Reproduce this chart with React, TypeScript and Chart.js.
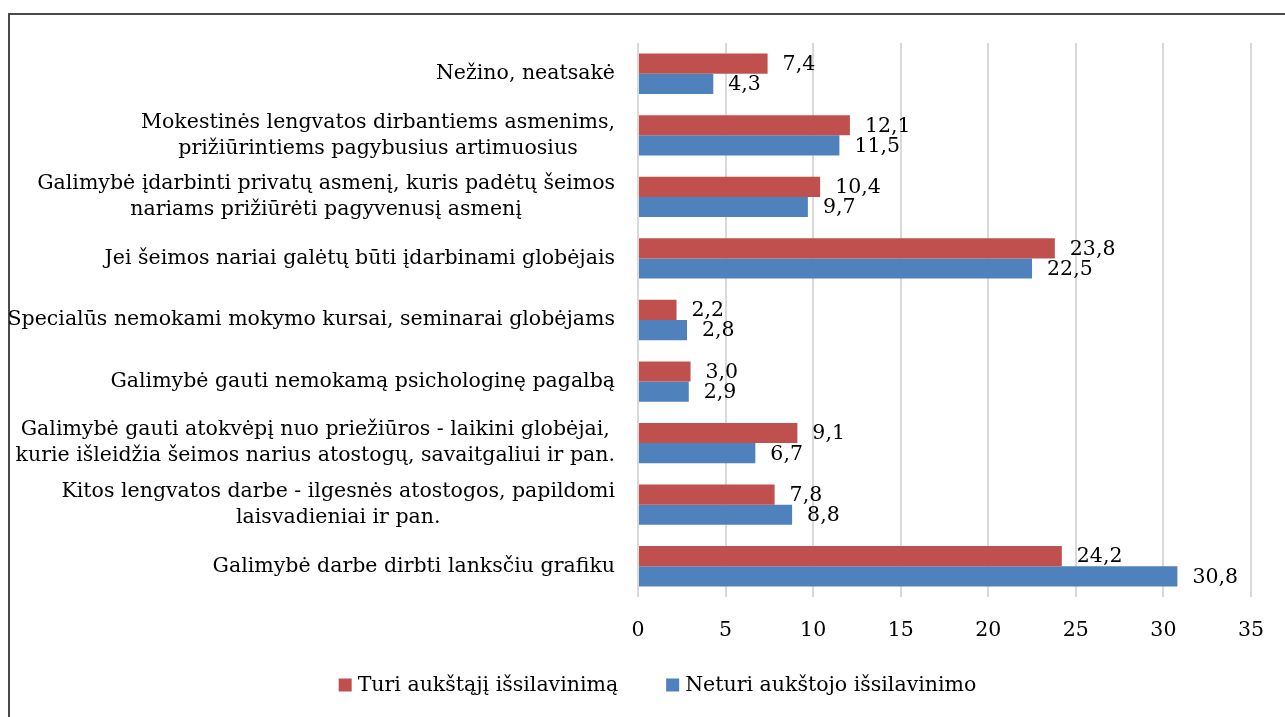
import React, { useEffect, useRef } from 'react';
import { Chart, registerables } from 'chart.js';

Chart.register(...registerables);

const categories: (string | string[])[] = [
  'Nežino, neatsakė',
  ['Mokestinės lengvatos dirbantiems asmenims,', 'prižiūrintiems pagybusius artimuosius'],
  ['Galimybė įdarbinti privatų asmenį, kuris padėtų šeimos', 'nariams prižiūrėti pagyvenusį asmenį'],
  'Jei šeimos nariai galėtų būti įdarbinami globėjais',
  'Specialūs nemokami mokymo kursai, seminarai globėjams',
  'Galimybė gauti nemokamą psichologinę pagalbą',
  ['Galimybė gauti atokvėpį nuo priežiūros - laikini globėjai,', 'kurie išleidžia šeimos narius atostogų, savaitgaliui ir pan.'],
  ['Kitos lengvatos darbe - ilgesnės atostogos, papildomi', 'laisvadieniai ir pan.'],
  'Galimybė darbe dirbti lanksčiu grafiku',
];

const seriesTuriName = 'Turi aukštąjį išsilavinimą';
const seriesNeturiName = 'Neturi aukštojo išsilavinimo';

const turiValues = [7.4, 12.1, 10.4, 23.8, 2.2, 3.0, 9.1, 7.8, 24.2];
const neturiValues = [4.3, 11.5, 9.7, 22.5, 2.8, 2.9, 6.7, 8.8, 30.8];

const xMin = 0;
const xMax = 35;
const xStep = 5;

const RED = '#C0504D';
const BLUE = '#4F81BD';
const FONT_FAMILY = '"DejaVu Serif", serif';
const FONT_SIZE = 20.5;
const LINE_H = 26;

const fmt = (v: number) => v.toFixed(1).replace('.', ',');

const yLabelPlugin = {
  id: 'yLabelPlugin',
  afterDraw(chart: any) {
    const ctx = chart.ctx;
    const yScale = chart.scales.y;
    const labels = chart.data.labels as (string | string[])[];
    ctx.save();
    ctx.font = `${FONT_SIZE}px ${FONT_FAMILY}`;
    ctx.fillStyle = '#000';
    ctx.textBaseline = 'middle';
    ctx.textAlign = 'center';
    const right = chart.chartArea.left - 23;
    labels.forEach((lab, i) => {
      const lines = Array.isArray(lab) ? lab : [lab];
      const w = Math.max(...lines.map((l) => ctx.measureText(l).width));
      const cx = right - w / 2;
      const cy = yScale.getPixelForValue(i);
      lines.forEach((l, j) => {
        ctx.fillText(l, cx, cy + (j - (lines.length - 1) / 2) * LINE_H);
      });
    });
    ctx.restore();
  },
};

const valueLabelPlugin = {
  id: 'valueLabelPlugin',
  afterDatasetsDraw(chart: any) {
    const ctx = chart.ctx;
    ctx.save();
    ctx.font = `${FONT_SIZE}px ${FONT_FAMILY}`;
    ctx.fillStyle = '#000';
    ctx.textBaseline = 'middle';
    ctx.textAlign = 'left';
    chart.data.datasets.forEach((ds: any, i: number) => {
      const meta = chart.getDatasetMeta(i);
      meta.data.forEach((bar: any, j: number) => {
        ctx.fillText(fmt(ds.data[j]), bar.x + 15, bar.y + 1);
      });
    });
    ctx.restore();
  },
};

const legendPlugin = {
  id: 'legendPlugin',
  afterDraw(chart: any) {
    const ctx = chart.ctx;
    ctx.save();
    ctx.font = `${FONT_SIZE}px ${FONT_FAMILY}`;
    ctx.textBaseline = 'middle';
    ctx.textAlign = 'left';
    const box = 13;
    const gapBoxText = 6;
    const gapItems = 48;
    const items = chart.data.datasets.map((d: any) => ({
      text: d.label as string,
      color: d.backgroundColor as string,
      w: ctx.measureText(d.label).width,
    }));
    const total =
      items.reduce((s: number, it: any) => s + box + gapBoxText + it.w, 0) +
      gapItems * (items.length - 1);
    let x = chart.width / 2 + 15 - total / 2;
    const cy = chart.chartArea.bottom + 88;
    items.forEach((it: any) => {
      ctx.fillStyle = it.color;
      ctx.fillRect(x, cy - box / 2, box, box);
      x += box + gapBoxText;
      ctx.fillStyle = '#000';
      ctx.fillText(it.text, x, cy + 1);
      x += it.w + gapItems;
    });
    ctx.restore();
  },
};

export default function App() {
  const canvasRef = useRef<HTMLCanvasElement | null>(null);

  useEffect(() => {
    if (!canvasRef.current) return;
    const chart = new Chart(canvasRef.current, {
      type: 'bar',
      data: {
        labels: categories as any,
        datasets: [
          {
            label: seriesTuriName,
            data: turiValues,
            backgroundColor: RED,
            categoryPercentage: 0.655,
            barPercentage: 1.0,
          },
          {
            label: seriesNeturiName,
            data: neturiValues,
            backgroundColor: BLUE,
            categoryPercentage: 0.655,
            barPercentage: 1.0,
          },
        ],
      },
      options: {
        indexAxis: 'y',
        animation: false,
        responsive: false,
        maintainAspectRatio: false,
        layout: { padding: { top: 43, right: 32, bottom: 75, left: 0 } },
        plugins: {
          legend: { display: false },
          tooltip: { enabled: false },
          title: { display: false },
        },
        scales: {
          x: {
            type: 'linear',
            min: xMin,
            max: xMax,
            ticks: {
              stepSize: xStep,
              color: '#000',
              padding: 21,
              font: { family: FONT_FAMILY, size: FONT_SIZE },
            },
            grid: { color: '#D9D9D9', lineWidth: 2, drawTicks: false },
            border: { display: false },
            afterFit: (s: any) => {
              s.height = 45;
            },
          },
          y: {
            type: 'category',
            ticks: { display: false },
            grid: { display: false },
            border: { display: false },
            afterFit: (s: any) => {
              s.width = 638;
            },
          },
        },
      },
      plugins: [valueLabelPlugin, yLabelPlugin, legendPlugin],
    });
    return () => chart.destroy();
  }, []);

  return (
    <div style={{ position: 'fixed', left: 0, top: 0, width: 1285, height: 717, overflow: 'hidden', background: '#fff' }}>
      <div
        style={{
          position: 'absolute',
          left: 8,
          top: 13,
          width: 1320,
          height: 760,
          border: '2px solid #4a4a4a',
          boxSizing: 'border-box',
        }}
      />
      <canvas
        ref={canvasRef}
        width={1285}
        height={717}
        style={{ position: 'absolute', left: 0, top: 0, display: 'block' }}
      />
    </div>
  );
}
